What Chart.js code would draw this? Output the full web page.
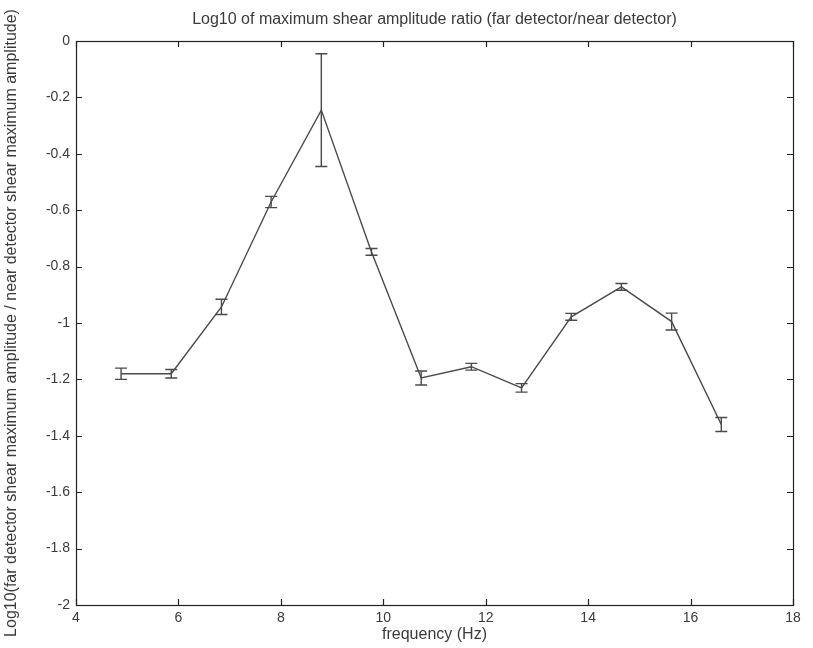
<!DOCTYPE html>
<html>
<head>
<meta charset="utf-8">
<script src="https://cdn.jsdelivr.net/npm/chart.js@4.4.1/dist/chart.umd.min.js"></script>
<style>
  html, body { margin: 0; padding: 0; background: #fff; }
  #wrap { width: 813px; height: 648px; }
</style>
</head>
<body>
<div id="wrap"><canvas id="c" width="813" height="648"></canvas></div>
<script>
// ---- data ----
const frequencyHz = [4.88, 5.86, 6.84, 7.81, 8.79, 9.77, 10.74, 11.72, 12.70, 13.67, 14.65, 15.63, 16.60];
const logAmpRatio = [-1.18, -1.18, -0.943, -0.571, -0.245, -0.748, -1.195, -1.155, -1.23, -0.978, -0.872, -0.995, -1.36];
const errHalf     = [0.02, 0.015, 0.027, 0.02, 0.2, 0.012, 0.025, 0.012, 0.015, 0.012, 0.012, 0.03, 0.025];
const xTicks = [4, 6, 8, 10, 12, 14, 16, 18];
const yTicks = [0, -0.2, -0.4, -0.6, -0.8, -1, -1.2, -1.4, -1.6, -1.8, -2];

const titleText = 'Log10 of maximum shear amplitude ratio (far detector/near detector)';
const xTitle = 'frequency (Hz)';
const yTitle = 'Log10(far detector shear maximum amplitude / near detector shear maximum amplitude)';

const points = frequencyHz.map((f, i) => ({ x: f, y: logAmpRatio[i] }));
const FONT = 'Liberation Sans, Arial, Helvetica, sans-serif';
const TXT = '#3a3a3a';
const LINE = '#4a4a4a';

const errorBarPlugin = {
  id: 'errorBars',
  afterDatasetsDraw(chart) {
    const ctx = chart.ctx;
    const xs = chart.scales.x, ys = chart.scales.y;
    ctx.save();
    ctx.strokeStyle = LINE;
    ctx.lineWidth = 1.4;
    const cap = 6;
    frequencyHz.forEach((f, i) => {
      const px = xs.getPixelForValue(f);
      const top = ys.getPixelForValue(logAmpRatio[i] + errHalf[i]);
      const bot = ys.getPixelForValue(logAmpRatio[i] - errHalf[i]);
      ctx.beginPath();
      ctx.moveTo(px, top); ctx.lineTo(px, bot);
      ctx.moveTo(px - cap, top); ctx.lineTo(px + cap, top);
      ctx.moveTo(px - cap, bot); ctx.lineTo(px + cap, bot);
      ctx.stroke();
    });
    ctx.restore();
  }
};

const framePlugin = {
  id: 'frame',
  afterDraw(chart) {
    const ctx = chart.ctx;
    const a = chart.chartArea;
    const xs = chart.scales.x, ys = chart.scales.y;
    ctx.save();
    ctx.strokeStyle = '#222';
    ctx.lineWidth = 1.2;
    ctx.strokeRect(Math.round(a.left) + 0.5, Math.round(a.top) + 0.5,
                   Math.round(a.right - a.left), Math.round(a.bottom - a.top));
    const tl = 6;
    ctx.beginPath();
    xTicks.forEach(v => {
      const p = Math.round(xs.getPixelForValue(v)) + 0.5;
      ctx.moveTo(p, a.bottom); ctx.lineTo(p, a.bottom - tl);
      ctx.moveTo(p, a.top); ctx.lineTo(p, a.top + tl);
    });
    yTicks.forEach(v => {
      const p = Math.round(ys.getPixelForValue(v)) + 0.5;
      ctx.moveTo(a.left, p); ctx.lineTo(a.left + tl, p);
      ctx.moveTo(a.right, p); ctx.lineTo(a.right - tl, p);
    });
    ctx.stroke();
    ctx.restore();
  }
};

new Chart(document.getElementById('c'), {
  type: 'scatter',
  data: {
    datasets: [{
      data: points,
      showLine: true,
      borderColor: LINE,
      borderWidth: 1.4,
      pointRadius: 0,
      fill: false,
      tension: 0
    }]
  },
  options: {
    responsive: false,
    animation: false,
    devicePixelRatio: 1,
    layout: { padding: { left: 0, right: 20, top: 0, bottom: 0 } },
    plugins: {
      legend: { display: false },
      tooltip: { enabled: false },
      title: {
        display: true,
        fullSize: false,
        text: titleText,
        color: TXT,
        font: { family: FONT, size: 16, weight: 'normal' },
        padding: { top: 10, bottom: 11.8 }
      }
    },
    scales: {
      x: {
        type: 'linear',
        min: 4, max: 18,
        grid: { display: false, drawTicks: false },
        border: { display: false },
        afterBuildTicks(s) { s.ticks = xTicks.map(v => ({ value: v })); },
        afterFit(s) { s.height = 43; },
        ticks: { color: TXT, padding: 5, font: { family: FONT, size: 14 }, maxRotation: 0,
                 callback: v => String(v) },
        title: { display: true, text: xTitle, color: TXT, font: { family: FONT, size: 16 },
                 padding: { top: 0, bottom: 4 } }
      },
      y: {
        type: 'linear',
        min: -2, max: 0,
        grid: { display: false, drawTicks: false },
        border: { display: false },
        afterBuildTicks(s) { s.ticks = yTicks.map(v => ({ value: v })); },
        afterFit(s) { s.width = 76; },
        ticks: { color: TXT, padding: 6, font: { family: FONT, size: 14 },
                 callback: v => String(Math.round(v * 10) / 10) },
        title: { display: true, text: yTitle, color: TXT, font: { family: FONT, size: 16 },
                 padding: { top: 2, bottom: 0 } }
      }
    }
  },
  plugins: [errorBarPlugin, framePlugin]
});
</script>
</body>
</html>
